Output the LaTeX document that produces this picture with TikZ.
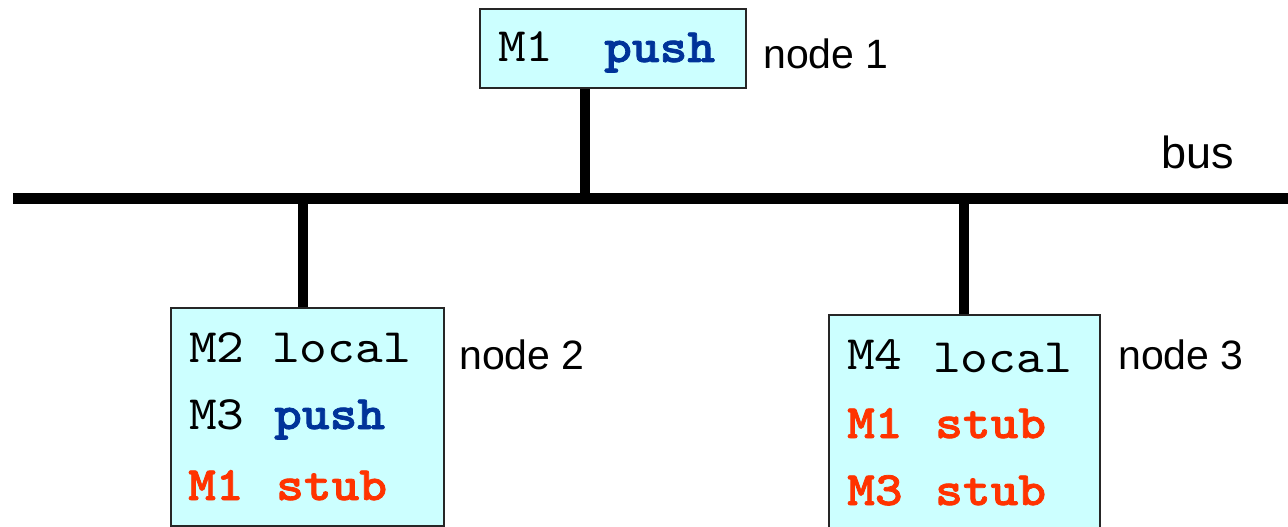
\documentclass[tikz,border=0pt]{standalone}
\usepackage{fontspec}
\setmainfont{Liberation Sans}
\newfontfamily\coderm{lmmono10-regular}[Extension=.otf, FakeStretch=1.1]
\newfontfamily\codebf{lmmonolt10-bold}[Extension=.otf, FakeStretch=1.1, FakeBold=1.6]
\definecolor{boxfill}{HTML}{CCFFFF}
\definecolor{pushblue}{HTML}{003399}
\definecolor{stubred}{HTML}{FF3300}
\begin{document}
\begin{tikzpicture}[x=1pt,y=-1pt,
  nodebox/.style={draw=black!85, line width=1.6pt, fill=boxfill, rectangle, anchor=north west, inner sep=0pt},
  code/.style={anchor=base west, inner sep=0pt, font=\fontsize{48}{58}\selectfont\coderm},
  bcode/.style={anchor=base west, inner sep=0pt, font=\fontsize{48}{58}\selectfont\codebf},
  lbl/.style={anchor=base west, inner sep=0pt, font=\fontsize{41}{48}\selectfont},
  wire/.style={line width=10.5pt}
]
\useasboundingbox (0,0) rectangle (1288,527);
% boxes
\node[nodebox, minimum width=266pt, minimum height=79pt] (box1) at (479,8) {};
\node[nodebox, minimum width=273pt, minimum height=218pt] (box2) at (170,307) {};
\node[nodebox, minimum width=271pt, minimum height=240pt] (box3) at (828,314) {};
% bus
\coordinate (busL) at (13,198.5);
\coordinate (busR) at (1290,198.5);
\draw[wire] (busL) -- (busR);
\coordinate (j1) at (585,198.5);
\coordinate (j2) at (303,198.5);
\coordinate (j3) at (964,198.5);
\draw[wire] (j1) -- (j1 |- box1.south);
\draw[wire] (j2) -- (j2 |- box2.north);
\draw[wire] (j3) -- (j3 |- box3.north);
% box 1 text
\node[code] (t1a) at (498,62) {M1};
\node[bcode, text=pushblue] (t1b) at (604,62) {push};
% box 2 text
\node[code] (t2a) at (189,362) {M2};
\node[code] (t2b) at (272,362) {local};
\node[code] (t2c) at (189,429) {M3};
\node[bcode, text=pushblue] (t2d) at (274,429) {push};
\node[bcode, text=stubred] (t2e) at (188,500) {M1};
\node[bcode, text=stubred] (t2f) at (276,500) {stub};
% box 3 text
\node[code] (t3a) at (847,369) {M4};
\node[code] (t3b) at (933,372) {local};
\node[bcode, text=stubred] (t3c) at (847,438) {M1};
\node[bcode, text=stubred] (t3d) at (935,438) {stub};
\node[bcode, text=stubred] (t3e) at (847,505) {M3};
\node[bcode, text=stubred] (t3f) at (935,505) {stub};
% labels
\node[lbl] (l1) at (763,69) {node 1};
\node[lbl, font=\fontsize{45}{52}\selectfont] (lbus) at (1161,168) {bus};
\node[lbl] (l2) at (459,369) {node 2};
\node[lbl] (l3) at (1118,369) {node 3};
\end{tikzpicture}
\end{document}
